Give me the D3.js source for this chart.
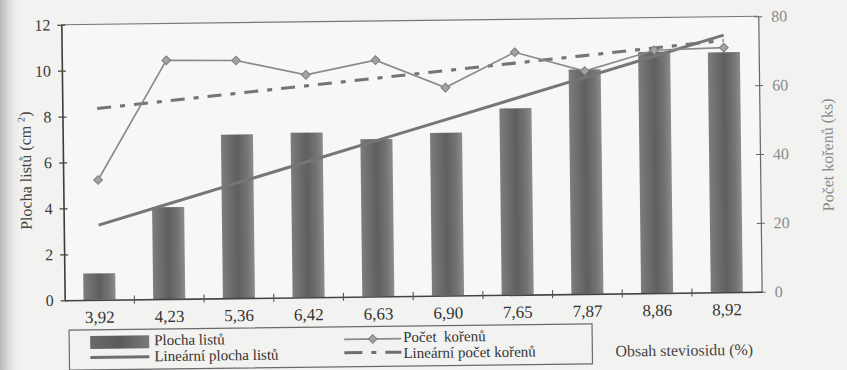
<!DOCTYPE html>
<html><head><meta charset="utf-8">
<script src="https://cdn.jsdelivr.net/npm/d3@7"></script>
<style>
html,body{margin:0;padding:0;background:#f2f2f0;}
svg{display:block;}
svg text{font-family:"Liberation Serif","Times New Roman",Tinos,"DejaVu Serif","Noto Serif",serif !important;white-space:pre;}
</style></head>
<body>
<svg id="chart" width="847" height="370"></svg>
<script>
const categories = ["3,92","4,23","5,36","6,42","6,63","6,90","7,65","7,87","8,86","8,92"];
const plochaListu = [1.15, 4.0, 7.13, 7.17, 6.85, 7.09, 8.12, 9.78, 10.51, 10.45];
const pocetKorenu = [34.8, 69.3, 69.0, 64.6, 68.6, 60.4, 70.4, 64.7, 70.5, 71.0];
const leftTicks = [0,2,4,6,8,10,12];
const rightTicks = [0,20,40,60,80];

const svg = d3.select("#chart");
const W = 847, H = 370;
const M = {l:63, r:760, t:20.5, b:296};

const defs = svg.append("defs");
const sh = defs.append("linearGradient").attr("id","shadow").attr("x1",0).attr("x2",1).attr("y1",0).attr("y2",0);
sh.append("stop").attr("offset",0).attr("stop-color","#b8b8b6").attr("stop-opacity",1);
sh.append("stop").attr("offset",1).attr("stop-color","#f2f2f0").attr("stop-opacity",0);
const bg = defs.append("linearGradient").attr("id","barGrad").attr("x1",0).attr("x2",1).attr("y1",0).attr("y2",0);
[[0,"#7e7e7e"],[0.15,"#737373"],[0.5,"#5f5f5f"],[0.8,"#747474"],[1,"#8d8d8d"]].forEach(s=>bg.append("stop").attr("offset",s[0]).attr("stop-color",s[1]));
const lg = defs.append("linearGradient").attr("id","legGrad").attr("x1",0).attr("x2",1).attr("y1",0).attr("y2",0);
[[0,"#6a6a6a"],[0.5,"#5a5a5a"],[1,"#7a7a7a"]].forEach(s=>lg.append("stop").attr("offset",s[0]).attr("stop-color",s[1]));

svg.append("rect").attr("width",W).attr("height",H).attr("fill","#f2f2f0");
svg.append("rect").attr("width",24).attr("height",H).attr("fill","url(#shadow)");

const g = svg.append("g").attr("transform","rotate(-0.7,411,160)");

const x = d3.scaleBand().domain(categories).range([M.l, M.r]).padding(0);
const yL = d3.scaleLinear().domain([0,12]).range([M.b, M.t]);
const yR = d3.scaleLinear().domain([0,80]).range([M.b, M.t]);
const barW = x.bandwidth()*0.46;
const cx = c => x(c) + x.bandwidth()/2;

g.append("rect").attr("x",M.l).attr("y",M.t).attr("width",M.r-M.l).attr("height",M.b-M.t).attr("fill","#f7f7f5");

g.selectAll("rect.bar").data(categories).join("rect").attr("class","bar")
  .attr("x",c=>cx(c)-barW/2).attr("width",barW)
  .attr("y",(c,i)=>yL(plochaListu[i])).attr("height",(c,i)=>M.b-yL(plochaListu[i]))
  .attr("fill","url(#barGrad)");

// Excel-like linear trendline over category index
function trend(vals){
  const xs = vals.map((v,i)=>i+1);
  const mx = d3.mean(xs), my = d3.mean(vals);
  const b = d3.sum(xs.map((xv,i)=>(xv-mx)*(vals[i]-my))) / d3.sum(xs.map(xv=>(xv-mx)**2));
  const a = my - b*mx;
  return xs.map(xv=>a+b*xv);
}
const trendL = trend(plochaListu);
const trendR = trend(pocetKorenu);

g.append("line").attr("x1",M.l).attr("x2",M.r).attr("y1",M.t).attr("y2",M.t).attr("stroke","#777").attr("stroke-width",1.2);

g.append("path").datum(trendL)
  .attr("d",d3.line().x((d,i)=>cx(categories[i])).y(d=>yL(d)))
  .attr("fill","none").attr("stroke","#767676").attr("stroke-width",3);

g.append("path").datum(trendR)
  .attr("d",d3.line().x((d,i)=>cx(categories[i])).y(d=>yR(d)))
  .attr("fill","none").attr("stroke","#747474").attr("stroke-width",3.2)
  .attr("stroke-dasharray","14,9,5,9");

g.append("path").datum(pocetKorenu)
  .attr("d",d3.line().x((d,i)=>cx(categories[i])).y(d=>yR(d)))
  .attr("fill","none").attr("stroke","#8a8a8a").attr("stroke-width",1.6);
const sym = d3.symbol(d3.symbolSquare, 38);
g.selectAll("path.mk").data(pocetKorenu).join("path").attr("class","mk")
  .attr("d",sym)
  .attr("transform",(d,i)=>`translate(${cx(categories[i])},${yR(d)}) rotate(45)`)
  .attr("fill","#a2a2a2").attr("stroke","#7c7c7c").attr("stroke-width",1);

const ax = g.append("g").attr("transform",`translate(${M.l},0)`)
  .call(d3.axisLeft(yL).tickValues(leftTicks).tickSizeInner(4).tickSizeOuter(0).tickPadding(7).tickFormat(d3.format("d")));
ax.select(".domain").attr("stroke","#3c3c3c").attr("stroke-width",1.6);
ax.selectAll(".tick line").attr("x1",4).attr("x2",-4).attr("stroke","#444").attr("stroke-width",1.2);
ax.selectAll(".tick text").attr("font-size",16).attr("fill","#3a3a3a");

const ar = g.append("g").attr("transform",`translate(${M.r},0)`)
  .call(d3.axisRight(yR).tickValues(rightTicks).tickSizeInner(4).tickSizeOuter(0).tickPadding(9).tickFormat(d3.format("d")));
ar.select(".domain").attr("stroke","#666").attr("stroke-width",1.2);
ar.selectAll(".tick line").attr("x1",-4).attr("x2",4).attr("stroke","#666").attr("stroke-width",1);
ar.selectAll(".tick text").attr("font-size",16).attr("fill","#8a8a8a");

const ab = g.append("g").attr("transform",`translate(0,${M.b})`)
  .call(d3.axisBottom(x).tickSize(0).tickPadding(11));
ab.select(".domain").attr("stroke","#444").attr("stroke-width",1.6);
ab.selectAll(".tick text").attr("font-size",17).attr("fill","#333");
g.selectAll("line.xt").data(categories.slice(1)).join("line").attr("class","xt")
  .attr("x1",c=>x(c)).attr("x2",c=>x(c)).attr("y1",M.b-4).attr("y2",M.b+4)
  .attr("stroke","#555").attr("stroke-width",1.1);

// axis titles
const lt = g.append("text").attr("transform","translate(31,166) rotate(-90)").attr("text-anchor","middle")
  .attr("font-size",16).attr("fill","#444");
lt.append("tspan").text("Plocha listů (cm ");
lt.append("tspan").attr("font-size",10).attr("dy",-6).text("2");
lt.append("tspan").attr("dy",6).text(")");
g.append("text").attr("transform","translate(833,160) rotate(-90)").attr("text-anchor","middle")
  .attr("font-size",16).attr("fill","#8a8a8a").text("Počet kořenů (ks)");

// legend
const leg = g.append("g");
leg.append("rect").attr("x",67).attr("y",326).attr("width",523).attr("height",40)
  .attr("fill","none").attr("stroke","#6a6a6a").attr("stroke-width",1.2);
leg.append("rect").attr("x",88).attr("y",332).attr("width",59).attr("height",13).attr("fill","url(#legGrad)");
leg.append("line").attr("x1",88).attr("x2",147).attr("y1",353.5).attr("y2",353.5).attr("stroke","#6e6e6e").attr("stroke-width",3);
leg.append("text").attr("x",152).attr("y",342).attr("font-size",15).attr("fill","#333").text("Plocha listů");
leg.append("text").attr("x",152).attr("y",358).attr("font-size",15).attr("fill","#333").text("Lineární plocha listů");
leg.append("line").attr("x1",342).attr("x2",399).attr("y1",338.5).attr("y2",338.5).attr("stroke","#8a8a8a").attr("stroke-width",1.6);
leg.append("path").attr("d",sym).attr("transform","translate(370.5,338.5) rotate(45)").attr("fill","#a2a2a2").attr("stroke","#7c7c7c");
leg.append("line").attr("x1",342).attr("x2",399).attr("y1",352).attr("y2",352).attr("stroke","#6e6e6e").attr("stroke-width",3)
  .attr("stroke-dasharray","18,9,5,9");
leg.append("text").attr("x",401).attr("y",342).attr("font-size",15).attr("fill","#333").text("Počet  kořenů");
leg.append("text").attr("x",401).attr("y",358).attr("font-size",15).attr("fill","#333").text("Lineární počet kořenů");
g.append("text").attr("x",613).attr("y",359).attr("font-size",16).attr("fill","#444").text("Obsah steviosidu (%)");
</script>
</body></html>
